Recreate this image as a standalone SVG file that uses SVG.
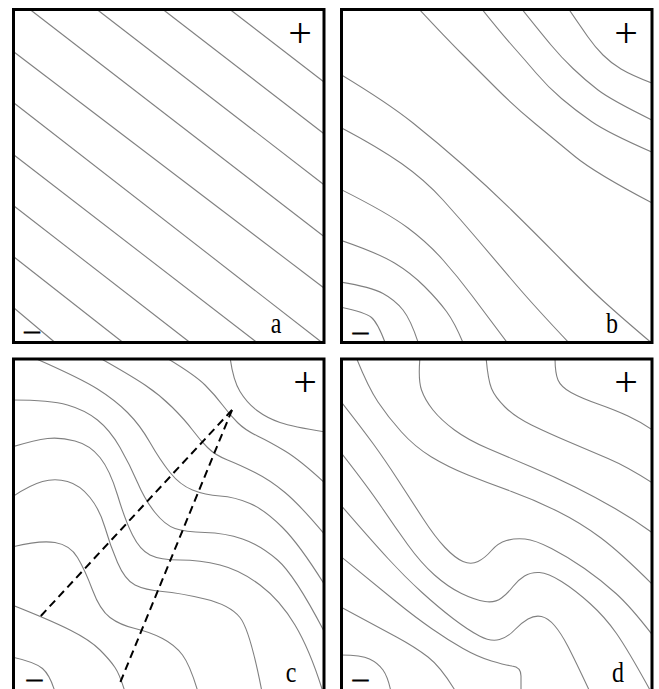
<svg xmlns="http://www.w3.org/2000/svg" width="659" height="689" viewBox="0 0 659 689">
<style>
.frame{fill:none;stroke:#000;stroke-width:3}
.ct{fill:none;stroke:#808080;stroke-width:1.1}
.dash{fill:none;stroke:#000;stroke-width:2;stroke-dasharray:8 5}
.sg{font-family:"Liberation Serif","Times New Roman",serif;font-size:42px;fill:#000;text-anchor:middle}
.mn{font-family:"Liberation Serif","Times New Roman",serif;font-size:13px;font-weight:bold;fill:#000;stroke:#000;stroke-width:1.2;text-anchor:middle}
.lb{font-family:"Liberation Serif","Times New Roman",serif;font-size:30px;fill:#000;text-anchor:middle}
</style>
<defs>
<clipPath id="ca"><rect x="13.5" y="9.5" width="310.5" height="333"/></clipPath>
<clipPath id="cb"><rect x="341.5" y="9.5" width="310.5" height="333"/></clipPath>
<clipPath id="cc"><rect x="13.5" y="359" width="310.5" height="340"/></clipPath>
<clipPath id="cd"><rect x="341.5" y="359" width="310.5" height="340"/></clipPath>
</defs>
<rect width="659" height="689" fill="#fff"/>

<g id="panel-a">
<g clip-path="url(#ca)">
<path class="ct" d="M30,9.5 L324,236.5"/>
<path class="ct" d="M97,9.5 L324,184.7"/>
<path class="ct" d="M163,9.5 L324,133.8"/>
<path class="ct" d="M230,9.5 L324,82"/>
<path class="ct" d="M14,52 L324,288"/>
<path class="ct" d="M14,103 L322,342.5"/>
<path class="ct" d="M14,155 L257,342.5"/>
<path class="ct" d="M14,206 L190,342.5"/>
<path class="ct" d="M14,257 L123,342.5"/>
<path class="ct" d="M14,308 L55,342.5"/>
</g>
<rect class="frame" x="13.5" y="9.5" width="310.5" height="333"/>
<text class="sg" x="300" y="47.4">+</text>
<text class="mn" transform="translate(31.5,336.6) scale(2.3,1)">−</text>
<text class="lb" transform="translate(276,333) scale(0.8,1)">a</text>
</g>

<g id="panel-b">
<g clip-path="url(#cb)">
<path class="ct" d="M568,8 Q581,27 588,37 Q595,47 603,55 Q611,63 621,69 Q631,75 654,84"/>
<path class="ct" d="M521,8 Q541,33 551,45 Q561,57 573,68.5 Q585,80 598,90 Q611,100 654,121"/>
<path class="ct" d="M481,8 Q501,33 513,46.5 Q525,60 536.5,73.5 Q548,87 561.5,98.5 Q575,110 591.5,121.5 Q608,133 654,153"/>
<path class="ct" d="M418,8 Q445,37 461.5,53.5 Q478,70 496.5,88.5 Q515,107 535,123.5 Q555,140 575,156.5 Q595,173 654,204"/>
<path class="ct" d="M340,74 Q388,103 413,123 Q438,143 463,165 Q488,187 511.5,210 Q535,233 561.5,260 Q588,287 604.5,302 Q621,317 654,345"/>
<path class="ct" d="M340,127 Q378,147 401.5,163.5 Q425,180 443,200 Q461,220 478,240 Q495,260 515,283.5 Q535,307 571,345"/>
<path class="ct" d="M340,189 Q388,213 408,228 Q428,243 443,260 Q458,277 471.5,295 Q485,313 509,345"/>
<path class="ct" d="M340,240 Q378,253 394.5,263 Q411,273 424.5,286.5 Q438,300 446.5,311.5 Q455,323 464,345"/>
<path class="ct" d="M340,282 Q371,287 383,293.5 Q395,300 403,310 Q411,320 419,345"/>
<path class="ct" d="M340,307 Q365,312 371.5,317.5 Q378,323 386,345"/>
</g>
<rect class="frame" x="341.5" y="9.5" width="310.5" height="333"/>
<text class="sg" x="626" y="47.4">+</text>
<text class="mn" transform="translate(360,337.6) scale(2.3,1)">−</text>
<text class="lb" transform="translate(612,333) scale(0.8,1)">b</text>
</g>

<g id="panel-c">
<g clip-path="url(#cc)">
<path class="ct" d="M230,357 Q233,380 240,391.5 Q247,403 257,410.5 Q267,418 280,422.5 Q293,427 326,432"/>
<path class="ct" d="M165,357 Q195,375 205,385 Q215,395 222.5,405 Q230,415 237.5,422.5 Q245,430 257.5,436 Q270,442 285,451 Q300,460 326,484"/>
<path class="ct" d="M98,357 Q130,375 145,385 Q160,395 172.5,407.5 Q185,420 192.5,430 Q200,440 207.5,447.5 Q215,455 227.5,460 Q240,465 255,472.5 Q270,480 285,492.5 Q300,505 326,536"/>
<path class="ct" d="M32,357 Q80,378 97.5,389 Q115,400 127.5,412.5 Q140,425 150,442.5 Q160,460 170,472.5 Q180,485 192.5,490 Q205,495 220,496 Q235,497 250,503.5 Q265,510 282.5,527.5 Q300,545 326,587"/>
<path class="ct" d="M12,400 Q50,400 67.5,405 Q85,410 97.5,420 Q110,430 120,447.5 Q130,465 137.5,482.5 Q145,500 155,512.5 Q165,525 175,528.5 Q185,532 205,532.5 Q225,533 242.5,539 Q260,545 277.5,560 Q295,575 326,635"/>
<path class="ct" d="M12,447 Q35,440 47.5,438.5 Q60,437 75,441 Q90,445 100,457.5 Q110,470 117.5,495 Q125,520 132.5,535 Q140,550 150,555 Q160,560 180,560 Q200,560 220,565 Q240,570 260,585 Q280,600 295,625 Q310,650 323,692"/>
<path class="ct" d="M12,497 Q30,485 42.5,481.5 Q55,478 67.5,481.5 Q80,485 90,497.5 Q100,510 105,527.5 Q110,545 117.5,562.5 Q125,580 135,585 Q145,590 162.5,591.5 Q180,593 205,599 Q230,605 240,617.5 Q250,630 262,692"/>
<path class="ct" d="M12,547 Q40,540 55,542.5 Q70,545 77.5,557.5 Q85,570 92.5,590 Q100,610 110,617.5 Q120,625 135,628.5 Q150,632 162.5,638.5 Q175,645 182.5,655 Q190,665 198,692"/>
<path class="ct" d="M12,605 Q50,620 70,630 Q90,640 100,650 Q110,660 115,667.5 Q120,675 125,692"/>
<path class="ct" d="M12,657 Q35,662 42.5,668.5 Q50,675 55,692"/>
</g>
<rect class="frame" x="13.5" y="359" width="310.5" height="340"/>
<text class="sg" x="305" y="396">+</text>
<text class="mn" transform="translate(34,685) scale(2.3,1)">−</text>
<text class="lb" transform="translate(291,682) scale(0.8,1)">c</text>
</g>

<g id="connectors">
<path class="dash" d="M232,410 L38,619"/>
<path class="dash" d="M232,410 L120,683"/>
</g>

<g id="panel-d">
<g clip-path="url(#cd)">
<path class="ct" d="M555,357 Q555,373 558,380 Q561,387 571,392.5 Q581,398 598,404 Q615,410 628,416 Q641,422 654,431"/>
<path class="ct" d="M486,357 Q488,380 491.5,388.5 Q495,397 505,407 Q515,417 531.5,425 Q548,433 568,441.5 Q588,450 608,458.5 Q628,467 654,484"/>
<path class="ct" d="M420,357 Q418,380 421.5,390 Q425,400 433,410 Q441,420 454.5,430 Q468,440 488,448.5 Q508,457 531.5,467 Q555,477 575,487 Q595,497 615,508.5 Q635,520 654,534"/>
<path class="ct" d="M356,357 Q368,387 378,402 Q388,417 401.5,432 Q415,447 431.5,457 Q448,467 468,475 Q488,483 511.5,491.5 Q535,500 558,511.5 Q581,523 601,538 Q621,553 654,586"/>
<path class="ct" d="M339,399 Q361,427 373,443.5 Q385,460 398,480 Q411,500 423,518.5 Q435,537 445,547.5 Q455,558 463,561.5 Q471,565 478,561.5 Q485,558 491.5,550.5 Q498,543 506.5,540.5 Q515,538 525,539 Q535,540 551.5,548.5 Q568,557 584.5,568.5 Q601,580 616,593.5 Q631,607 654,637"/>
<path class="ct" d="M339,450 Q368,487 381.5,507 Q395,527 408,545 Q421,563 434.5,575 Q448,587 461.5,593.5 Q475,600 485,601.5 Q495,603 501.5,598 Q508,593 513,586.5 Q518,580 524.5,576 Q531,572 539.5,572.5 Q548,573 561.5,581.5 Q575,590 590,603.5 Q605,617 616.5,633.5 Q628,650 650,690"/>
<path class="ct" d="M339,503 Q371,540 388,558.5 Q405,577 421.5,592 Q438,607 453,618.5 Q468,630 479.5,636 Q491,642 499.5,639.5 Q508,637 514.5,630 Q521,623 528,619 Q535,615 541.5,616.5 Q548,618 554.5,625.5 Q561,633 568,646.5 Q575,660 590,692"/>
<path class="ct" d="M339,555 Q378,587 396.5,602 Q415,617 431.5,628.5 Q448,640 463,648.5 Q478,657 491.5,661 Q505,665 512,666 Q521,667 521,676 L521,692"/>
<path class="ct" d="M339,606 Q378,627 396.5,637 Q415,647 428,657 Q441,667 456,692"/>
<path class="ct" d="M339,655 Q361,655 369.5,659 Q378,663 383,670 Q388,677 391,692"/>
</g>
<rect class="frame" x="341.5" y="359" width="310.5" height="340"/>
<text class="sg" x="626" y="396.4">+</text>
<text class="mn" transform="translate(360,685) scale(2.3,1)">−</text>
<text class="lb" transform="translate(618,682) scale(0.8,1)">d</text>
</g>
</svg>
